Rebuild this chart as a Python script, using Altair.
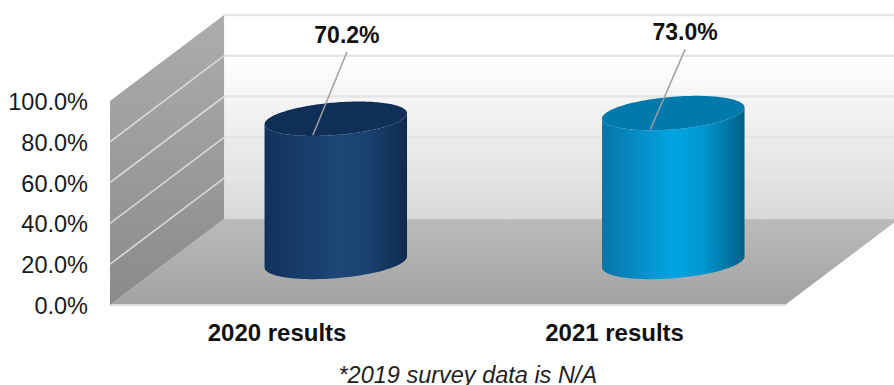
import math
import altair as alt
import pandas as pd

# Survey results
categories = ["2020 results", "2021 results"]
values = [70.2, 73.0]
value_labels = ["70.2%", "73.0%"]
axis_ticks = [0, 20, 40, 60, 80, 100]
tick_labels = ["0.0%", "20.0%", "40.0%", "60.0%", "80.0%", "100.0%"]
footnote = ["*2019 survey data is N/A"]

body_stops = [
    [(0, "#12315a"), (0.5, "#1c4776"), (0.72, "#1a4270"), (1, "#0e2b4e")],
    [(0, "#0a74a8"), (0.5, "#00a5e3"), (0.72, "#0095cf"), (1, "#005f86")],
]
cap_colors = ["#0f2f58", "#0079ad"]
floor_colors = ["#bbbbbb", "#a2a2a2"]

# Oblique projection of the chart box
DEPTH_X = 0.338  # sideways shift of the back wall, in category widths
DEPTH_Y = 42.2   # upward shift of the back wall, in percentage points
PX_X = 337.5     # pixels per category width
PX_Y = 2.04      # pixels per percentage point
RADIUS = 0.2     # cylinder radius, as a share of category width and of depth


def project(cat, pct, depth=0.0):
    return cat + depth * DEPTH_X, pct + depth * DEPTH_Y


def cap_outline(center_cat, pct):
    """Sample the upper and lower arcs of a cylinder's elliptical cross-section."""
    ax = RADIUS
    bx = RADIUS * DEPTH_X
    by = RADIUS * DEPTH_Y
    rx = math.hypot(ax, bx)
    phi = math.atan2(bx, ax)
    cx, cy = project(center_cat, pct, 0.5)
    rows = []
    steps = 90
    for i in range(steps + 1):
        tau = math.pi * i / steps
        rows.append({
            "x": cx + rx * math.cos(tau),
            "upper": cy + by * math.sin(tau + phi),
            "lower": cy + by * math.sin(-tau + phi),
        })
    return pd.DataFrame(rows)


x_scale = alt.Scale(domain=[0, 784 / PX_X], nice=False, zero=False)
y_scale = alt.Scale(domain=[-80 / PX_Y, 305 / PX_Y], nice=False, zero=False)
X = alt.X("x:Q", scale=x_scale, axis=None)
Y = alt.Y("y:Q", scale=y_scale, axis=None)


def vertical(*stops):
    return alt.Gradient(
        gradient="linear", x1=0, x2=0, y1=0, y2=1,
        stops=[alt.GradientStop(offset=o, color=c) for o, c in stops],
    )


def horizontal(stops):
    return alt.Gradient(
        gradient="linear", x1=0, x2=1, y1=0, y2=0,
        stops=[alt.GradientStop(offset=o, color=c) for o, c in stops],
    )


def polygon(rows, fill):
    return alt.Chart(pd.DataFrame(rows)).mark_area(
        color=fill, clip=True, interpolate="linear"
    ).encode(x=X, y=Y, y2="y2:Q")


def seg(x0, y0, x1, y1, **extra):
    return {"x": x0, "y": y0, "x2": x1, "y2": y1, **extra}


def segments(rows, color, width):
    return alt.Chart(pd.DataFrame(rows)).mark_rule(
        color=color, strokeWidth=width, clip=True
    ).encode(x=X, y=Y, x2="x2:Q", y2="y2:Q")


# Back wall
bx0, by0 = project(0, 0, 1)
bx1, by1 = project(2, 100, 1)
back_wall = polygon(
    [{"x": bx0, "y": by1, "y2": by0}, {"x": bx1, "y": by1, "y2": by0}],
    vertical((0, "#ffffff"), (0.2, "#ffffff"), (1, "#d9d9d9")),
)
back_grid = segments(
    [seg(bx0, by0 + t, bx1, by0 + t) for t in axis_ticks[1:]], "#e6e6e6", 2.5
)

# Floor
fx0, fy0 = project(0, 0, 0)
fx1, _ = project(2, 0, 0)
floor = polygon(
    [
        {"x": fx0, "y": fy0, "y2": fy0},
        {"x": bx0, "y": by0, "y2": fy0},
        {"x": fx1, "y": by0, "y2": fy0},
        {"x": bx1, "y": by0, "y2": by0},
    ],
    vertical((0, floor_colors[0]), (1, floor_colors[1])),
)
front_edge = segments([seg(fx0, fy0, fx1, fy0)], "#dcdcdc", 2)

# Left wall
left_wall = polygon(
    [
        {"x": fx0, "y": fy0 + 100, "y2": fy0},
        {"x": bx0, "y": by1, "y2": by0},
    ],
    vertical((0, "#adadad"), (1, "#8a8a8a")),
)
left_grid = segments(
    [seg(fx0, t, bx0, by0 + t) for t in axis_ticks[1:-1]], "#d8d8d8", 1.6
)

# Percentage labels to the left of the box
tick_layer = (
    alt.Chart(pd.DataFrame({"x": [-22 / PX_X] * len(axis_ticks), "y": axis_ticks, "label": tick_labels}))
    .mark_text(font="Liberation Sans", fontSize=23.5, color="#1a1a1a", align="right", baseline="middle", dy=2)
    .encode(x=X, y=Y, text="label:N")
)

layers = [back_wall, back_grid, floor, front_edge, left_wall, left_grid, tick_layer]

# Cylinders
for i, value in enumerate(values):
    top = cap_outline(i + 0.5, value)
    base = cap_outline(i + 0.5, 0)
    body = pd.DataFrame({"x": top["x"], "y": top["lower"], "y2": base["lower"]})
    cap = pd.DataFrame({"x": top["x"], "y": top["upper"], "y2": top["lower"]})
    layers.append(polygon(body.to_dict("records"), horizontal(body_stops[i])))
    layers.append(polygon(cap.to_dict("records"), cap_colors[i]))

# Leader lines from each value label down onto its cylinder's cap
label_shift_x = [0.033, 0.035]
label_shift_y = [41.0, 39.5]
leader_gap = [8.3, 8.3]
anchor_x = [-0.068, -0.068]
anchor_y = [-8.1, -8.1]

leaders = []
label_rows = []
for i, value in enumerate(values):
    cx, cy = project(i + 0.5, value, 0.5)
    lx, ly = cx + label_shift_x[i], cy + label_shift_y[i]
    leaders.append(seg(lx, ly - leader_gap[i], cx + anchor_x[i], cy + anchor_y[i]))
    label_rows.append({"x": lx, "y": ly, "label": value_labels[i]})
layers.append(segments(leaders, "#a0a0a0", 1.5))

layers.append(
    alt.Chart(pd.DataFrame(label_rows))
    .mark_text(font="Liberation Sans", fontWeight="bold", fontSize=23, color="#111111", baseline="middle", dy=1)
    .encode(x=X, y=Y, text="label:N")
)

# Category labels beneath the front edge
cat_rows = [{"x": i + 0.495, "y": -14.2, "label": c} for i, c in enumerate(categories)]
layers.append(
    alt.Chart(pd.DataFrame(cat_rows))
    .mark_text(font="Liberation Sans", fontWeight="bold", fontSize=24, color="#111111", baseline="middle")
    .encode(x=X, y=Y, text="label:N")
)

# Footnote
layers.append(
    alt.Chart(pd.DataFrame({"x": [1.06], "y": [-35.0], "label": footnote}))
    .mark_text(font="Liberation Sans", fontStyle="italic", fontSize=23.5, color="#222222", baseline="middle")
    .encode(x=X, y=Y, text="label:N")
)

chart = (
    alt.layer(*layers)
    .properties(
        width=784,
        height=385,
        padding={"left": 110, "top": 0, "right": 0, "bottom": 0},
        autosize=alt.AutoSizeParams(type="none"),
        background="white",
    )
    .configure_view(stroke=None)
)

chart.save("out.html", embed_options={"renderer": "svg", "actions": False})
